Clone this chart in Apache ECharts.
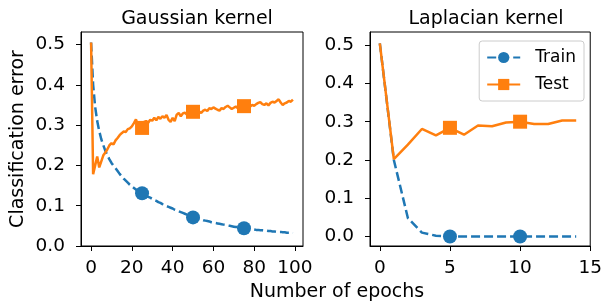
<!DOCTYPE html>
<html>
<head>
<meta charset="utf-8">
<script src="https://cdn.jsdelivr.net/npm/echarts@6/dist/echarts.min.js"></script>
<style>
  html, body { margin: 0; padding: 0; background: #fff; }
  #chart { width: 605px; height: 303px; }
</style>
</head>
<body>
<div id="chart"></div>
<script>
// Gaussian kernel, 100 epochs
const gaussTrain = [
  0.505, 0.400, 0.345, 0.310, 0.285, 0.265, 0.250, 0.236, 0.225, 0.215,
  0.206, 0.199, 0.193, 0.186, 0.179, 0.173, 0.167, 0.162, 0.157, 0.152,
  0.148, 0.144, 0.140, 0.137, 0.134, 0.131, 0.128, 0.125, 0.122, 0.120,
  0.117, 0.114, 0.112, 0.109, 0.107, 0.104, 0.102, 0.099, 0.097, 0.095,
  0.093, 0.090, 0.088, 0.086, 0.084, 0.082, 0.080, 0.078, 0.076, 0.073,
  0.071, 0.070, 0.068, 0.067, 0.066, 0.064, 0.063, 0.062, 0.061, 0.059,
  0.058, 0.057, 0.056, 0.055, 0.054, 0.053, 0.052, 0.051, 0.050, 0.049,
  0.048, 0.047, 0.047, 0.046, 0.045, 0.044, 0.044, 0.043, 0.042, 0.042,
  0.041, 0.040, 0.040, 0.039, 0.039, 0.038, 0.038, 0.037, 0.037, 0.036,
  0.036, 0.035, 0.035, 0.035, 0.034, 0.034, 0.033, 0.033, 0.033, 0.032
];
const gaussTest = [
  0.505, 0.178, 0.200, 0.222, 0.195, 0.210, 0.225, 0.232, 0.240, 0.250,
  0.255, 0.252, 0.262, 0.268, 0.275, 0.280, 0.284, 0.283, 0.290, 0.292,
  0.297, 0.305, 0.314, 0.300, 0.298, 0.293, 0.308, 0.310, 0.306, 0.313,
  0.311, 0.318, 0.312, 0.320, 0.316, 0.322, 0.318, 0.325, 0.313, 0.308,
  0.318, 0.310, 0.326, 0.330, 0.322, 0.329, 0.331, 0.326, 0.333, 0.330,
  0.333, 0.332, 0.336, 0.334, 0.330, 0.336, 0.338, 0.335, 0.342, 0.340,
  0.344, 0.341, 0.338, 0.336, 0.342, 0.340, 0.345, 0.348, 0.344, 0.340,
  0.343, 0.346, 0.342, 0.348, 0.346, 0.347, 0.345, 0.349, 0.346, 0.350,
  0.348, 0.352, 0.355, 0.357, 0.352, 0.350, 0.354, 0.349, 0.355, 0.358,
  0.356, 0.360, 0.364, 0.356, 0.350, 0.354, 0.356, 0.360, 0.358, 0.363
];
const gaussMarks = [25, 50, 75];

// Laplacian kernel, 15 epochs
const lapTrain = [0.505, 0.200, 0.048, 0.010, 0.002, 0.000, 0.000, 0.000, 0.000, 0.000, 0.000, 0.000, 0.000, 0.000, 0.000];
const lapTest = [0.505, 0.202, 0.240, 0.281, 0.264, 0.284, 0.266, 0.290, 0.288, 0.298, 0.300, 0.294, 0.294, 0.303, 0.303];
const lapMarks = [5, 10];

const gaussTicks = [0, 20, 40, 60, 80, 100];
const lapTicks = [0, 5, 10, 15];
const yTicks = [0, 0.1, 0.2, 0.3, 0.4, 0.5];

const BLUE = "#1f77b4";
const ORANGE = "#ff7f0e";
const FONT = "DejaVu Sans";
const TICK_FS = 18.5;

function pairs(arr) {
  return arr.map((v, i) => [i, v]);
}

function xAxisOf(idx, min, max, ticks) {
  return {
    type: "value",
    gridIndex: idx,
    min: min,
    max: max,
    splitLine: { show: false },
    axisLine: { onZero: false, lineStyle: { color: "#000", width: 1 } },
    axisTick: { inside: false, length: 5, customValues: ticks, lineStyle: { color: "#000" } },
    axisLabel: { customValues: ticks, color: "#000", fontSize: TICK_FS, fontFamily: FONT, margin: 13 },
  };
}

function yAxisOf(idx, min, max, name) {
  return {
    type: "value",
    gridIndex: idx,
    min: min,
    max: max,
    name: name,
    nameLocation: "middle",
    nameGap: 53,
    nameTextStyle: { color: "#000", fontSize: 19, fontFamily: FONT },
    splitLine: { show: false },
    axisLine: { show: true, onZero: false, lineStyle: { color: "#000", width: 1 } },
    axisTick: { show: true, inside: false, length: 5, customValues: yTicks, lineStyle: { color: "#000" } },
    axisLabel: {
      customValues: yTicks, color: "#000", fontSize: TICK_FS, fontFamily: FONT, margin: 16,
      formatter: (v) => v.toFixed(1),
    },
  };
}

function lineSeries(name, idx, data, marks, color, symbol, dashed) {
  return {
    name: name,
    type: "line",
    xAxisIndex: idx,
    yAxisIndex: idx,
    data: pairs(data),
    symbol: symbol,
    showAllSymbol: true,
    symbolSize: (val, p) => (marks.indexOf(p.dataIndex) >= 0 ? 14 : 0),
    itemStyle: { color: color },
    lineStyle: { color: color, width: 2.5, type: dashed ? [9, 4] : "solid" },
    animation: false,
    z: dashed ? 2 : 3,
  };
}

const chart = echarts.init(document.getElementById("chart"));
chart.setOption({
  backgroundColor: "#fff",
  animation: false,
  title: [
    { text: "Gaussian kernel", left: 192, top: 5, textAlign: "center",
      textStyle: { fontSize: 19, fontWeight: "normal", color: "#000", fontFamily: FONT } },
    { text: "Laplacian kernel", left: 481, top: 5, textAlign: "center",
      textStyle: { fontSize: 19, fontWeight: "normal", color: "#000", fontFamily: FONT } },
  ],
  legend: {
    data: ["Train", "Test"],
    orient: "vertical",
    right: 21,
    top: 41,
    itemWidth: 33,
    itemHeight: 14,
    itemGap: 10,
    padding: [8, 8, 8, 7],
    borderColor: "#ccc",
    borderWidth: 1,
    borderRadius: 3,
    textStyle: { fontSize: 17, color: "#000", fontFamily: FONT, padding: [0, 0, 0, 10] },
  },
  grid: [
    { left: 81, top: 32, width: 222, height: 214, show: true, borderColor: "#000", borderWidth: 1 },
    { left: 370, top: 32, width: 222, height: 214, show: true, borderColor: "#000", borderWidth: 1 },
  ],
  xAxis: [
    xAxisOf(0, -4.95, 103.95, gaussTicks),
    xAxisOf(1, -0.7, 15, lapTicks),
  ],
  yAxis: [
    yAxisOf(0, 0, 0.531, "Classification error"),
    yAxisOf(1, -0.025, 0.5345, ""),
  ],
  graphic: [
    { type: "text", x: 337, y: 292,
      style: { text: "Number of epochs", fontSize: 19, fontFamily: FONT, fill: "#000", align: "center", verticalAlign: "middle" } },
  ],
  series: [
    lineSeries("Train", 0, gaussTrain, gaussMarks, BLUE, "circle", true),
    lineSeries("Test", 0, gaussTest, gaussMarks, ORANGE, "rect", false),
    lineSeries("Train", 1, lapTrain, lapMarks, BLUE, "circle", true),
    lineSeries("Test", 1, lapTest, lapMarks, ORANGE, "rect", false),
  ],
});
</script>
</body>
</html>
